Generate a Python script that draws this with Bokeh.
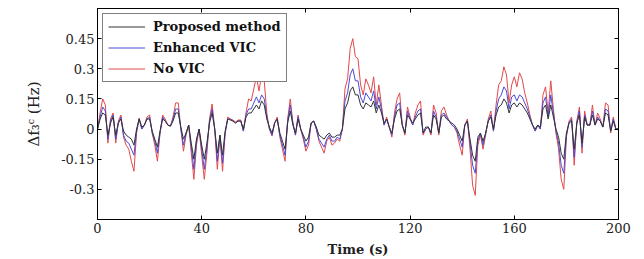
from bokeh.plotting import figure
from bokeh.models import Range1d, LinearAxis, FixedTicker, Legend, LegendItem
from bokeh.embed import file_html
from bokeh.resources import INLINE

time_s = list(range(0, 201))

no_vic = [
    0.00, 0.08, 0.15, 0.12, -0.07, 0.05, 0.08, -0.07, 0.04, 0.07,
    -0.04, -0.08, -0.10, -0.16, -0.21, -0.02, 0.055, 0.00, 0.02, 0.06,
    0.07, -0.02, -0.08, -0.16, -0.02, 0.07, 0.05, 0.02, 0.015, 0.06,
    0.13, 0.13, 0.00, -0.11, -0.03, 0.02, -0.12, -0.25, -0.08, 0.00,
    -0.13, -0.25, -0.12, 0.05, 0.125, 0.00, -0.20, -0.04, -0.21, -0.02,
    0.06, 0.05, 0.045, 0.035, 0.045, 0.045, -0.01, 0.08, 0.15, 0.14,
    0.20, 0.26, 0.19, 0.27, 0.24, 0.08, 0.00, -0.035, 0.03, 0.06,
    -0.04, -0.10, -0.16, 0.05, 0.15, 0.03, -0.03, 0.07, 0.00, -0.05,
    -0.11, -0.08, 0.03, 0.04, 0.00, -0.06, -0.09, -0.12, -0.06, -0.04,
    -0.08, -0.07, -0.05, -0.06, 0.00, 0.20, 0.25, 0.40, 0.45, 0.36,
    0.35, 0.22, 0.17, 0.25, 0.22, 0.18, 0.26, 0.12, 0.22, 0.12,
    0.02, 0.06, 0.01, -0.04, 0.08, 0.15, 0.18, 0.02, -0.03, 0.11,
    0.06, 0.02, 0.08, 0.12, 0.14, -0.03, 0.00, 0.01, -0.03, 0.12,
    0.08, -0.03, 0.09, 0.11, 0.07, 0.04, 0.02, 0.01, -0.02, -0.08,
    -0.13, 0.02, 0.05, -0.10, -0.28, -0.33, -0.08, -0.03, -0.10, -0.03,
    0.05, 0.09, -0.01, 0.12, 0.22, 0.24, 0.31, 0.27, 0.13, 0.22,
    0.26, 0.21, 0.28, 0.25, 0.18, 0.13, 0.07, 0.02, -0.01, 0.02,
    0.00, 0.17, 0.21, 0.08, 0.24, 0.10, -0.02, -0.10, -0.25, -0.30,
    -0.04, 0.04, 0.06, -0.18, 0.04, 0.11, -0.12, 0.09, 0.02, 0.02,
    0.12, 0.02, 0.08, 0.05, 0.01, 0.13, 0.12, -0.02, 0.06, 0.00,
    0.00,
]

proposed = [
    0.00, 0.05, 0.08, 0.07, -0.03, 0.03, 0.06, -0.03, 0.03, 0.05,
    -0.01, -0.03, -0.04, -0.05, -0.08, 0.00, 0.05, 0.01, 0.02, 0.05,
    0.05, -0.01, -0.05, -0.09, -0.01, 0.05, 0.04, 0.02, 0.015, 0.04,
    0.08, 0.08, 0.01, -0.05, -0.02, 0.02, -0.07, -0.15, -0.05, 0.00,
    -0.08, -0.15, -0.07, 0.03, 0.08, 0.00, -0.12, -0.03, -0.13, -0.01,
    0.05, 0.045, 0.04, 0.03, 0.04, 0.04, 0.00, 0.06, 0.08, 0.08,
    0.10, 0.12, 0.10, 0.14, 0.12, 0.05, 0.01, -0.02, 0.03, 0.05,
    -0.02, -0.06, -0.10, 0.03, 0.09, 0.02, -0.02, 0.05, 0.00, -0.03,
    -0.06, -0.04, 0.03, 0.04, 0.01, -0.03, -0.04, -0.05, -0.03, -0.02,
    -0.04, -0.04, -0.03, -0.03, 0.00, 0.10, 0.13, 0.19, 0.21, 0.17,
    0.17, 0.12, 0.10, 0.13, 0.12, 0.11, 0.14, 0.08, 0.12, 0.08,
    0.03, 0.05, 0.01, -0.02, 0.05, 0.09, 0.10, 0.02, -0.02, 0.07,
    0.05, 0.03, 0.05, 0.07, 0.08, -0.02, 0.01, 0.01, -0.02, 0.07,
    0.05, -0.02, 0.06, 0.07, 0.05, 0.04, 0.03, 0.02, 0.00, -0.03,
    -0.06, 0.02, 0.04, -0.05, -0.13, -0.16, -0.04, -0.02, -0.06, -0.02,
    0.04, 0.06, 0.00, 0.07, 0.11, 0.12, 0.15, 0.13, 0.08, 0.12,
    0.13, 0.11, 0.13, 0.12, 0.10, 0.08, 0.05, 0.02, 0.00, 0.02,
    0.01, 0.10, 0.12, 0.05, 0.12, 0.06, 0.00, -0.04, -0.12, -0.15,
    -0.02, 0.03, 0.04, -0.10, 0.03, 0.07, -0.07, 0.06, 0.02, 0.02,
    0.07, 0.02, 0.05, 0.04, 0.01, 0.08, 0.07, -0.01, 0.04, 0.00,
    0.00,
]

enhanced = [
    0.00, 0.06, 0.11, 0.09, -0.05, 0.04, 0.07, -0.05, 0.03, 0.06,
    -0.03, -0.06, -0.07, -0.10, -0.13, -0.01, 0.05, 0.00, 0.02, 0.05,
    0.06, -0.02, -0.06, -0.12, -0.02, 0.06, 0.04, 0.02, 0.015, 0.05,
    0.10, 0.10, 0.00, -0.08, -0.02, 0.02, -0.09, -0.20, -0.06, 0.00,
    -0.10, -0.20, -0.09, 0.04, 0.10, 0.00, -0.16, -0.03, -0.17, -0.02,
    0.05, 0.05, 0.04, 0.03, 0.04, 0.04, -0.01, 0.07, 0.10, 0.10,
    0.13, 0.16, 0.13, 0.17, 0.15, 0.06, 0.00, -0.03, 0.03, 0.05,
    -0.03, -0.08, -0.13, 0.04, 0.12, 0.03, -0.03, 0.06, 0.00, -0.04,
    -0.09, -0.06, 0.03, 0.04, 0.00, -0.05, -0.07, -0.09, -0.05, -0.03,
    -0.06, -0.06, -0.04, -0.05, 0.00, 0.14, 0.18, 0.27, 0.30, 0.24,
    0.24, 0.16, 0.13, 0.18, 0.16, 0.14, 0.19, 0.10, 0.16, 0.10,
    0.02, 0.05, 0.01, -0.03, 0.06, 0.12, 0.13, 0.02, -0.02, 0.09,
    0.05, 0.02, 0.06, 0.09, 0.10, -0.02, 0.00, 0.01, -0.02, 0.09,
    0.06, -0.02, 0.07, 0.08, 0.06, 0.04, 0.02, 0.01, -0.01, -0.05,
    -0.09, 0.02, 0.04, -0.07, -0.18, -0.22, -0.06, -0.02, -0.08, -0.02,
    0.04, 0.07, -0.01, 0.09, 0.15, 0.17, 0.21, 0.19, 0.10, 0.16,
    0.17, 0.14, 0.17, 0.16, 0.13, 0.10, 0.06, 0.02, -0.01, 0.02,
    0.00, 0.13, 0.16, 0.06, 0.17, 0.08, -0.01, -0.07, -0.18, -0.22,
    -0.03, 0.03, 0.05, -0.14, 0.03, 0.09, -0.09, 0.07, 0.02, 0.02,
    0.09, 0.02, 0.06, 0.04, 0.01, 0.10, 0.09, -0.01, 0.05, 0.00,
    0.00,
]

x_ticks = [0, 40, 80, 120, 160, 200]
y_ticks = [-0.3, -0.15, 0, 0.15, 0.3, 0.45]
y_tick_labels = ["-0.3", "-0.15", "0", "0.15", "0.3", "0.45"]

FONT = "DejaVu Serif"

p = figure(width=644, height=259, output_backend="svg", toolbar_location=None,
           x_range=Range1d(0, 200), y_range=Range1d(-0.45, 0.6),
           min_border_left=97, min_border_right=26, min_border_top=8,
           min_border_bottom=38)
p.grid.visible = False
p.outline_line_color = "black"
p.outline_line_width = 1
p.background_fill_color = "white"
p.border_fill_color = "white"

r_red = p.line(time_s, no_vic, line_color="#e2494b", line_width=1)
r_blue = p.line(time_s, enhanced, line_color="#4a4ad6", line_width=1)
r_black = p.line(time_s, proposed, line_color="#333333", line_width=1)

def style_axis(ax, labels=True):
    ax.axis_line_color = "black"
    ax.major_tick_in = 4
    ax.major_tick_out = 0
    ax.minor_tick_in = 0
    ax.minor_tick_out = 0
    ax.major_tick_line_color = "black"
    ax.major_label_text_font = FONT
    if labels:
        ax.major_label_text_font_size = "13px"
        ax.major_label_text_color = "#222222"
        ax.major_label_standoff = 3
    else:
        ax.major_label_text_font_size = "1px"
        ax.major_label_text_color = None
        ax.major_label_standoff = 0

xa = p.xaxis[0]
xa.ticker = FixedTicker(ticks=x_ticks)
style_axis(xa)
xa.axis_label = "Time (s)"
xa.axis_label_text_font = FONT
xa.axis_label_text_font_size = "13px"
xa.axis_label_text_font_style = "bold"
xa.axis_label_text_color = "#222222"
xa.axis_label_standoff = 6

ya = p.yaxis[0]
ya.ticker = FixedTicker(ticks=y_ticks)
ya.major_label_overrides = {t: l for t, l in zip(y_ticks, y_tick_labels)}
style_axis(ya)
ya.axis_label = "Δf₃ᶜ (Hz)"
ya.axis_label_text_font = FONT
ya.axis_label_text_font_size = "15px"
ya.axis_label_text_font_style = "normal"
ya.axis_label_text_color = "#222222"
ya.axis_label_standoff = 15

top = LinearAxis(ticker=FixedTicker(ticks=x_ticks))
style_axis(top, labels=False)
p.add_layout(top, "above")
right = LinearAxis(ticker=FixedTicker(ticks=y_ticks))
style_axis(right, labels=False)
p.add_layout(right, "right")

legend = Legend(items=[
    LegendItem(label="Proposed method", renderers=[r_black]),
    LegendItem(label="Enhanced VIC", renderers=[r_blue]),
    LegendItem(label="No VIC", renderers=[r_red]),
], location="top_left")
legend.label_text_font = FONT
legend.label_text_font_style = "bold"
legend.label_text_font_size = "13px"
legend.label_text_color = "#111111"
legend.glyph_width = 37
legend.glyph_height = 15
legend.label_height = 15
legend.label_standoff = 8
legend.spacing = 6
legend.padding = 5
legend.margin = 5
legend.border_line_color = "black"
legend.border_line_width = 1.5
legend.background_fill_alpha = 1
p.add_layout(legend)

open("out.html", "w").write(file_html(p, INLINE))
